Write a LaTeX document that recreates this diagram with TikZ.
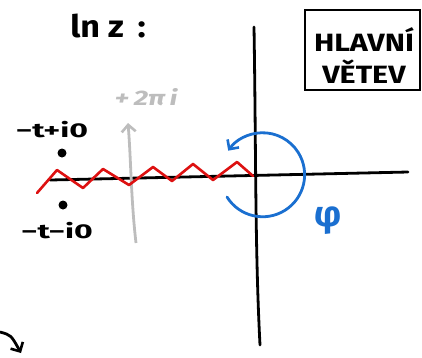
\documentclass[tikz,border=0pt]{standalone}
\usepackage{fontspec}
\setmainfont{Fira Sans}
\usetikzlibrary{arrows.meta}
\definecolor{pblue}{HTML}{1A6FD0}
\definecolor{pred}{HTML}{DD1111}
\definecolor{pgray}{HTML}{BDBDBD}
\tikzset{
  axis/.style={line width=2.8pt, black, line cap=round},
  zig/.style={line width=2.6pt, pred, line join=round, line cap=round},
  lbl/.style={font=\fontsize{20}{20}\selectfont\bfseries, inner sep=0pt, xscale=1.6},
  dot/.style={circle, fill=black, minimum size=9pt, inner sep=0pt},
  barb/.style={-{Straight Barb[length=7pt,width=14pt,line width=2.6pt]}}
}
\begin{document}
\begin{tikzpicture}[x=1pt,y=-1pt]
\useasboundingbox (0,0) rectangle (422,357);
% title
\node[font=\fontsize{31}{31}\selectfont\bfseries, inner sep=0pt, xscale=1.1] (title) at (108,26) {ln z\, :};
% box
\draw[line width=2.6pt] (305,10) rectangle (420,90);
\node[inner sep=0pt, align=center, font=\fontsize{25}{32}\selectfont\bfseries, xscale=1.22] (box) at (364,56) {HLAVNÍ\\VĚTEV};
% axes
\coordinate (vt) at (254,27);
\coordinate (vb) at (260,345);
\coordinate (hl) at (50,180);
\coordinate (hr) at (408,172);
\draw[axis] (vt) .. controls (256,150) and (255,250) .. (vb);
\draw[axis] (hl) -- (hr);
% gray arrow
\coordinate (gb) at (136,243);
\coordinate (gt) at (128,123);
\draw[pgray, line width=2.8pt, barb] (gb) .. controls (131,200) and (131,160) .. (gt);
\node[pgray, font=\fontsize{21}{21}\selectfont\bfseries\itshape, inner sep=0pt, xscale=1.35] (twopi) at (146,97) {+\,2π\,i};
% red zigzag
\draw[zig] (37,193) -- (57,170) -- (83,188) -- (103,169) -- (129,185) -- (153,167)
  -- (172,181) -- (193,164) -- (213,180) -- (237,162) -- (253,176);
% dots and labels
\node[dot] (p1) at (62,153) {};
\node[dot] (p2) at (63,205) {};
\node[lbl] (l1) at (52,130) {−t+i0};
\node[lbl] (l2) at (57,231) {−t−i0};
% blue arc
\coordinate (bs) at (227,197);
\draw[pblue, line width=2.8pt, line cap=round, barb] (bs) arc[start angle=148, end angle=-145, radius=42];
\node[pblue, font=\fontsize{36}{36}\selectfont\bfseries, inner sep=0pt] (phi) at (328,221) {φ};
% bottom-left arrow
\coordinate (cs) at (0,332);
\coordinate (ce) at (21,353);
\draw[line width=2.8pt, barb] (cs) .. controls (11,335) .. (ce);
\end{tikzpicture}
\end{document}
